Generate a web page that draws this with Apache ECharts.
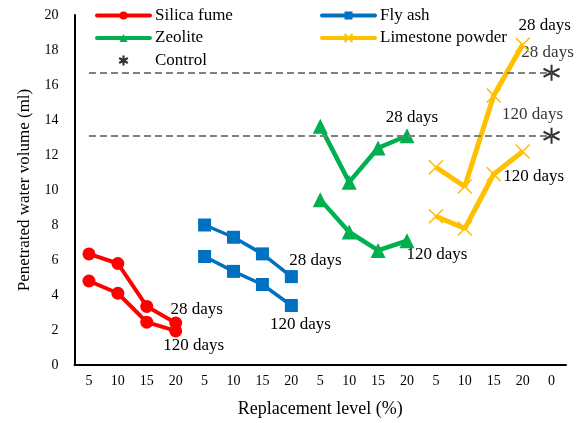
<!DOCTYPE html>
<html>
<head>
<meta charset="utf-8">
<script src="https://cdn.jsdelivr.net/npm/echarts@6/dist/echarts.min.js"></script>
<style>
html,body{margin:0;padding:0;background:#fff;}
#chart{width:587px;height:423px;}
</style>
</head>
<body>
<div id="chart"></div>
<script>
const categories = ['5','10','15','20','5','10','15','20','5','10','15','20','5','10','15','20','0'];
const yTicks = [0, 20, 2];
const silica28 = [6.35, 5.8, 3.35, 2.4];
const silica120 = [4.8, 4.1, 2.45, 1.95];
const flyash28 = [8.0, 7.3, 6.35, 5.05];
const flyash120 = [6.2, 5.35, 4.6, 3.4];
const zeolite28 = [13.65, 10.45, 12.4, 13.1];
const zeolite120 = [9.45, 7.6, 6.55, 7.1];
const limestone28 = [11.3, 10.2, 15.4, 18.3];
const limestone120 = [8.5, 7.8, 10.9, 12.2];
const control = [16.7, 13.1]; // 28 days, 120 days
const ageLabels = ['28 days', '120 days'];

const serif = '"Liberation Serif", "Times New Roman", serif';
const crossPath = 'path://M0,0L10,10M10,0L0,10';
const starPath = 'path://M5,0L5,10M0.67,2.5L9.33,7.5M0.67,7.5L9.33,2.5';
const LABEL_FS = 17;

function place(values, group, labelText, offset) {
  const arr = new Array(categories.length).fill(null);
  values.forEach((v, i) => { arr[group * 4 + i] = v; });
  const last = group * 4 + values.length - 1;
  arr[last] = {
    value: arr[last],
    label: {
      show: true, formatter: labelText, position: 'inside', offset: offset,
      color: '#000', fontFamily: serif, fontSize: LABEL_FS
    }
  };
  return arr;
}

function lineSeries(name, data, color, symbol, size, width, stroke) {
  return {
    type: 'line', name: name, data: data,
    symbol: symbol, symbolSize: size, showAllSymbol: true,
    lineStyle: { color: color, width: width },
    itemStyle: stroke ? { color: color, borderColor: color, borderWidth: 1.6 } : { color: color },
    label: { show: false },
    emphasis: { disabled: true },
    animation: false, z: 3
  };
}

const RED = '#FF0000', BLUE = '#0070C0', GREEN = '#00B050', GOLD = '#FFC000';

const series = [
  {
    type: 'scatter', name: 'Control',
    data: [
      { value: [16, control[0]], label: { show: true, formatter: ageLabels[0], position: 'inside', offset: [-4, -20], color: '#000', fontFamily: serif, fontSize: LABEL_FS } },
      { value: [16, control[1]], label: { show: true, formatter: ageLabels[1], position: 'inside', offset: [-19, -21], color: '#000', fontFamily: serif, fontSize: LABEL_FS } }
    ],
    symbol: starPath, symbolSize: 16,
    itemStyle: { color: '#000', borderColor: '#000', borderWidth: 2 },
    markLine: {
      silent: true, symbol: 'none', animation: false,
      label: { show: false },
      lineStyle: { color: '#808080', width: 2, type: [7, 4] },
      data: control.map(v => [{ xAxis: 0, yAxis: v }, { xAxis: categories.length - 1, yAxis: v }])
    },
    emphasis: { disabled: true }, animation: false, z: 2
  },
  lineSeries('Silica fume', place(silica28, 0, ageLabels[0], [21, -13]), RED, 'circle', 13, 4),
  lineSeries('Silica fume', place(silica120, 0, ageLabels[1], [18, 15]), RED, 'circle', 13, 4),
  lineSeries('Fly ash', place(flyash28, 1, ageLabels[0], [24, -16]), BLUE, 'rect', 13, 3.5),
  lineSeries('Fly ash', place(flyash120, 1, ageLabels[1], [9, 19]), BLUE, 'rect', 13, 3.5),
  lineSeries('Zeolite', place(zeolite28, 2, ageLabels[0], [5, -18]), GREEN, 'triangle', 15, 4.5),
  lineSeries('Zeolite', place(zeolite120, 2, ageLabels[1], [30, 14]), GREEN, 'triangle', 15, 4.5),
  lineSeries('Limestone powder', place(limestone28, 3, ageLabels[0], [22, -19]), GOLD, crossPath, 14, 5, true),
  lineSeries('Limestone powder', place(limestone120, 3, ageLabels[1], [11, 25]), GOLD, crossPath, 14, 5, true)
];

const legendText = { color: '#000', fontFamily: serif, fontSize: 17, lineHeight: 14 };
const legendCommon = {
  orient: 'vertical', top: 2, itemWidth: 53, itemHeight: 10, itemGap: 5.5,
  textStyle: legendText, selectedMode: false,
  lineStyle: { width: 4, cap: 'round' }
};

const option = {
  backgroundColor: '#fff',
  animation: false,
  grid: { left: 74.5, right: 21, top: 15, bottom: 55 },
  legend: [
    Object.assign({ data: ['Silica fume', 'Zeolite',
      { name: 'Control', itemStyle: { color: '#000', borderColor: '#000', borderWidth: 2.2 } }], left: 90 }, legendCommon),
    Object.assign({ data: ['Fly ash', 'Limestone powder'], left: 315 }, legendCommon)
  ],
  xAxis: {
    type: 'category', data: categories, boundaryGap: true,
    name: 'Replacement level (%)', nameLocation: 'middle', nameGap: 35,
    nameTextStyle: { color: '#000', fontFamily: serif, fontSize: 18 },
    axisLine: { lineStyle: { color: '#000', width: 2 } },
    axisTick: { show: false },
    axisLabel: { color: '#000', fontFamily: serif, fontSize: 14, margin: 9, interval: 0 },
    splitLine: { show: false }
  },
  yAxis: {
    type: 'value', min: yTicks[0], max: yTicks[1], interval: yTicks[2],
    name: 'Penetrated water volume (ml)', nameLocation: 'middle', nameGap: 41, nameRotate: 90,
    nameTextStyle: { color: '#000', fontFamily: serif, fontSize: 17 },
    axisLine: { show: true, lineStyle: { color: '#000', width: 2 } },
    axisTick: { show: false },
    axisLabel: { color: '#000', fontFamily: serif, fontSize: 14, margin: 16 },
    splitLine: { show: false }
  },
  series: series
};

const chart = echarts.init(document.getElementById('chart'), null, { renderer: 'canvas' });
chart.setOption(option);
</script>
</body>
</html>
